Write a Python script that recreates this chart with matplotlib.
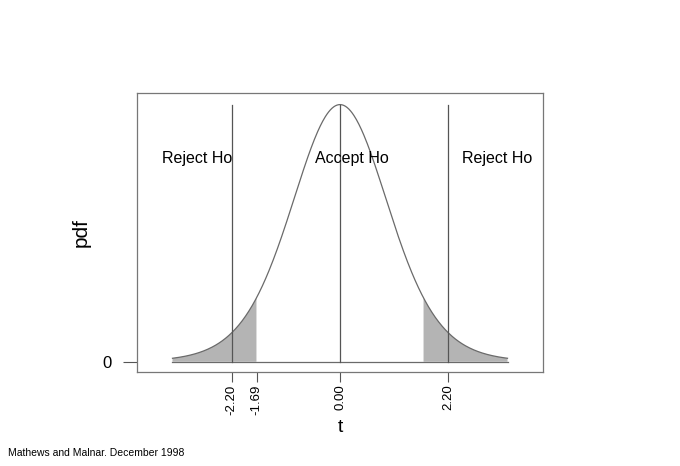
from math import gamma, pi, sqrt

import numpy as np
from matplotlib import pyplot as plt

plt.switch_backend('Agg')
plt.rcParams['font.family'] = ['Liberation Sans', 'DejaVu Sans']

DOF = 11
T_LO, T_HI = -3.4, 3.4
CRIT_TWO = 2.20   # two-sided critical value
CRIT_ONE = 1.69   # edge of shaded tails
TICK_VALUES = [-2.20, -1.69, 0.00, 2.20]
TICK_LABELS = ["-2.20", "-1.69", "0.00", "2.20"]
REGION_LABELS = ["Reject Ho", "Accept Ho", "Reject Ho"]
REGION_X = [-2.9, 0.24, 3.18]


def t_pdf(x, dof):
    coef = gamma((dof + 1) / 2) / (sqrt(dof * pi) * gamma(dof / 2))
    return coef * (1 + x ** 2 / dof) ** (-(dof + 1) / 2)


t = np.linspace(T_LO, T_HI, 400)
dens = t_pdf(t, DOF)
peak = t_pdf(0.0, DOF)

fig = plt.figure(figsize=(6.8, 4.66), dpi=100)
axis = fig.add_axes([0.2015, 0.2017, 0.597, 0.5987])

left = t <= -CRIT_ONE
right = t >= CRIT_ONE
axis.fill_between(t[left], 0, dens[left], facecolor='#b4b4b4', edgecolor='none')
axis.fill_between(t[right], 0, dens[right], facecolor='#b4b4b4', edgecolor='none')
axis.plot(t, dens, color='#6a6a6a', lw=0.9)
axis.plot([T_LO, T_HI], [0, 0], color='#6a6a6a', lw=0.9)
for xv in (-CRIT_TWO, 0.0, CRIT_TWO):
    axis.plot([xv, xv], [0, peak], color='#555555', lw=0.9)

for label, xv in zip(REGION_LABELS, REGION_X):
    axis.text(xv, 0.79 * peak, label, ha='center', va='center', fontsize=11.5)

axis.set_xlim(-4.12, 4.12)
axis.set_ylim(-0.04 * peak, 1.045 * peak)
axis.set_xticks(TICK_VALUES)
axis.set_xticklabels(TICK_LABELS, rotation=90, fontsize=9.5)
axis.set_yticks([0])
axis.set_yticklabels(["0"], fontsize=12)
axis.tick_params(axis='x', length=7, width=0.8, color='#555555', pad=2)
axis.tick_params(axis='y', length=10, width=0.8, color='#555555', pad=8)
for spine in axis.spines.values():
    spine.set_color('#777777')
    spine.set_linewidth(0.9)

axis.set_xlabel("t", fontsize=14, labelpad=3)
axis.set_ylabel("pdf", fontsize=15, labelpad=9)

fig.text(0.012, 0.028, "Mathews and Malnar. December 1998", fontsize=7.5, va='center')

fig.savefig("out.png", dpi=100)
